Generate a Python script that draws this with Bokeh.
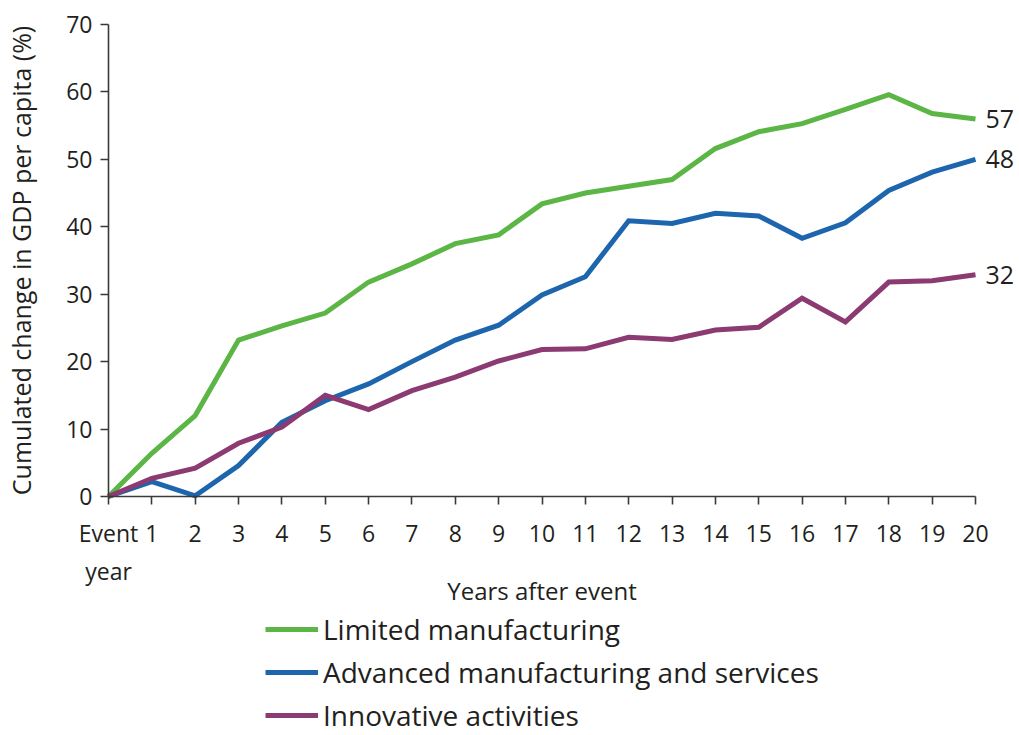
import math
from bokeh.plotting import figure
from bokeh.models import Range1d, Legend, LegendItem, ColumnDataSource, FixedTicker, LabelSet, Label
from bokeh.core.properties import value
from bokeh.embed import file_html
from bokeh.resources import INLINE

years = list(range(0, 21))
limited = [0, 6.4, 12.0, 23.2, 25.3, 27.2, 31.8, 34.5, 37.5, 38.8, 43.4, 45.0, 46.0, 47.0, 51.6, 54.1, 55.3, 57.4, 59.6, 56.8, 56.0]
advanced = [0, 2.2, 0.1, 4.6, 11.0, 14.2, 16.7, 20.0, 23.2, 25.4, 29.9, 32.6, 40.9, 40.5, 42.0, 41.6, 38.3, 40.6, 45.4, 48.1, 50.0]
innovative = [0, 2.7, 4.2, 7.9, 10.3, 15.0, 12.9, 15.7, 17.7, 20.1, 21.8, 21.9, 23.6, 23.3, 24.7, 25.1, 29.4, 25.9, 31.8, 32.0, 32.9]
series_names = ["Limited manufacturing", "Advanced manufacturing and services", "Innovative activities"]
end_labels = ["57", "48", "32"]
y_ticks = [0, 10, 20, 30, 40, 50, 60, 70]
x_tick_labels = {0: "Event\nyear"}
x_title = "Years after event"
y_title = "Cumulated change in GDP per capita (%)"

colors = ["#5cb646", "#1d66ad", "#8c3a72"]
FONT = "Open Sans"
TXT = "#231f20"
AX = "#3a3a3a"

W, H = 1019, 735
X0, Y0 = 108, 496          # pixel position of the data origin
px_x = 867 / 20            # px per year
px_y = 472 / 70            # px per percentage point

p = figure(output_backend="svg", toolbar_location=None,
           frame_width=W, frame_height=H,
           min_border_left=0, min_border_right=0, min_border_top=0, min_border_bottom=0,
           x_range=Range1d(-X0 / px_x, (W - X0) / px_x),
           y_range=Range1d(-(H - Y0) / px_y, Y0 / px_y))
p.outline_line_color = None
p.xgrid.grid_line_color = None
p.ygrid.grid_line_color = None
p.background_fill_color = "white"
p.border_fill_color = "white"

data = [limited, advanced, innovative]
renderers = []
for vals, c in zip(data, colors):
    r = p.line(years, vals, line_color=c, line_width=5, line_join="miter")
    renderers.append(r)

# end labels
src = ColumnDataSource(dict(x=[years[-1]] * 3, y=[d[-1] for d in data], t=end_labels))
p.add_layout(LabelSet(x="x", y="y", text="t", source=src, x_offset=10, text_baseline="middle",
                      text_align="left", text_font=value(FONT), text_font_size="25px", text_color=TXT))

for ax in (p.xaxis[0], p.yaxis[0]):
    ax.fixed_location = 0
    ax.axis_line_color = AX
    ax.axis_line_width = 1.6
    ax.major_tick_line_color = AX
    ax.major_tick_line_width = 1.6
    ax.major_tick_in = 0
    ax.major_tick_out = 8
    ax.minor_tick_line_color = None
    ax.major_label_text_font = FONT
    ax.major_label_text_font_size = "23px"
    ax.major_label_text_color = TXT
    ax.axis_label_text_font = FONT
    ax.axis_label_text_font_style = "normal"
    ax.axis_label_text_color = TXT

p.xaxis.ticker = FixedTicker(ticks=years)
p.xaxis.bounds = (years[0], years[-1])
p.xaxis.major_label_overrides = x_tick_labels
p.xaxis.major_label_standoff = 12
p.xaxis.axis_label = x_title
p.xaxis.axis_label_text_font_size = "24px"
p.xaxis.axis_label_standoff = -16

p.yaxis.ticker = FixedTicker(ticks=y_ticks)
p.yaxis.bounds = (y_ticks[0], y_ticks[-1])
p.yaxis.major_label_standoff = 8

# y-axis title (screen units from the frame's bottom-left)
p.add_layout(Label(x=20, y=H - 260, x_units="screen", y_units="screen", text=y_title,
                   angle=math.pi / 2, text_align="center", text_baseline="middle",
                   text_font=FONT, text_font_size="25px", text_color=TXT))

legend = Legend(items=[LegendItem(label=n, renderers=[r]) for n, r in zip(series_names, renderers)],
                location=(265, 1), orientation="vertical",
                glyph_width=53, glyph_height=34, label_height=34, spacing=5,
                label_standoff=5, padding=0, margin=0,
                border_line_color=None, background_fill_alpha=0,
                label_text_font=FONT, label_text_font_size="28px", label_text_color=TXT)
p.add_layout(legend, "center")

open("out.html", "w").write(file_html(p, INLINE))
